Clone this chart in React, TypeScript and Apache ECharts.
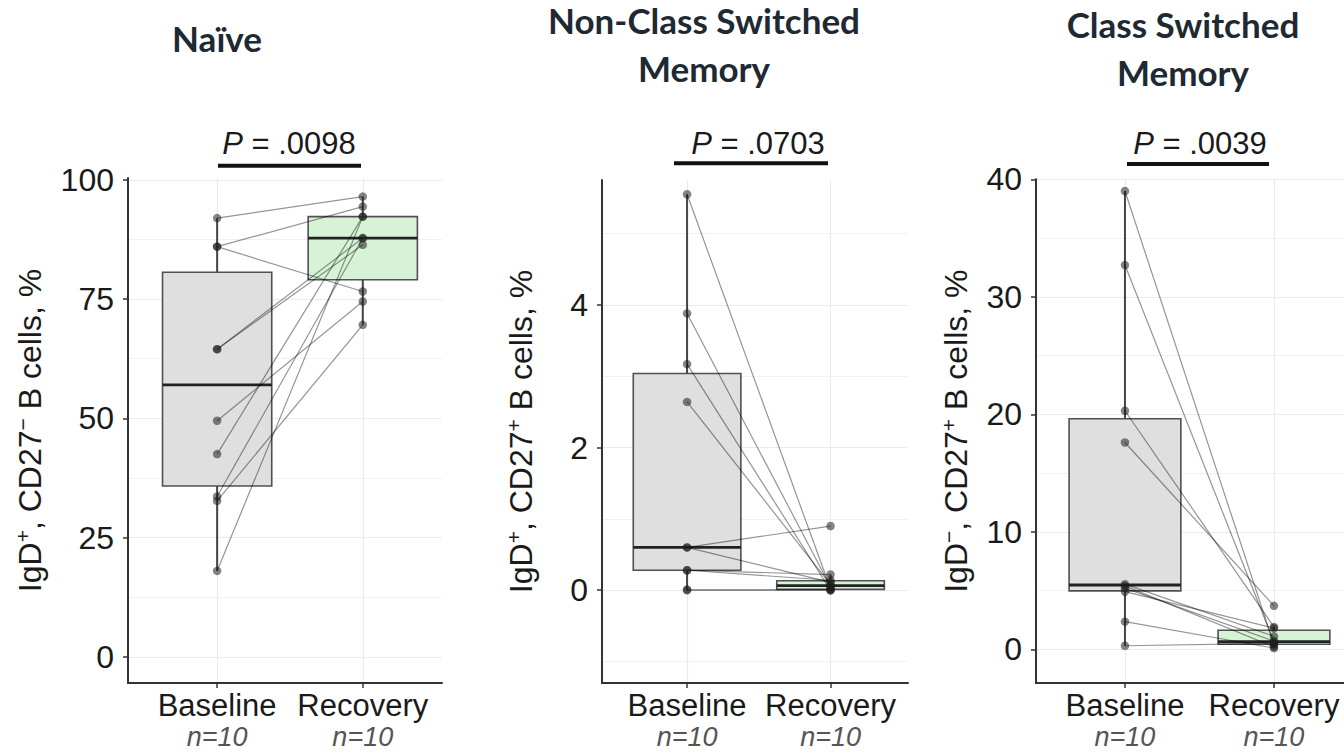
import React, { useEffect, useRef } from 'react';
import * as echarts from 'echarts';

// ---------- data ----------
const groups = ['Baseline', 'Recovery'];
const groupN = ['n=10', 'n=10'];

// paired values (same index = same patient)
const naiveBaseline = [92.0, 86.0, 86.0, 64.5, 64.5, 49.5, 42.5, 33.6, 32.7, 18.0];
const naiveRecovery = [96.5, 94.4, 76.6, 87.8, 86.4, 74.5, 92.3, 87.8, 69.6, 92.3];

const ncsBaseline = [5.55, 3.88, 3.17, 2.64, 0.6, 0.6, 0.28, 0.28, 0.01, 0.0];
const ncsRecovery = [0.02, 0.05, 0.0, 0.08, 0.9, 0.11, 0.22, 0.14, 0.01, 0.0];

const csBaseline = [39.0, 32.7, 20.3, 17.6, 5.54, 5.4, 5.2, 4.9, 2.35, 0.3];
const csRecovery = [0.4, 0.6, 1.9, 3.7, 1.1, 0.2, 0.7, 1.8, 0.1, 0.5];

const panelTitles = [['Naïve'], ['Non-Class Switched', 'Memory'], ['Class Switched', 'Memory']];
const pValues = ['.0098', '.0703', '.0039'];

const yTicks1 = [0, 25, 50, 75, 100];
const yMinor1 = [12.5, 37.5, 62.5, 87.5];
const yTicks2 = [0, 2, 4];
const yMinor2 = [-1, 1, 3, 5];
const yTicks3 = [0, 10, 20, 30, 40];
const yMinor3 = [5, 15, 25, 35];

const yNames = [
  '{t|IgD}{s|+}{t|, CD27}{s|−}{t| B cells, %}',
  '{t|IgD}{s|+}{t|, CD27}{s|+}{t| B cells, %}',
  '{t|IgD}{s|−}{t|, CD27}{s|+}{t| B cells, %}',
];

// ---------- layout (pixels / axis ranges) ----------
const panels = [
  { base: naiveBaseline, rec: naiveRecovery, ticks: yTicks1, minor: yMinor1,
    grid: { left: 128, top: 178, width: 314, height: 505 }, xMin: 0.388, xMax: 2.544, yMin: -5.5, yMax: 100.4,
    nameGap: 80, titleX: 217, titleY: [37.5], pX: 289, bar: [218, 361, 165.7] },
  { base: ncsBaseline, rec: ncsRecovery, ticks: yTicks2, minor: yMinor2,
    grid: { left: 602, top: 180, width: 306, height: 503 }, xMin: 0.407, xMax: 2.54, yMin: -1.3, yMax: 5.75,
    nameGap: 63, titleX: 704, titleY: [19.5, 67.5], pX: 758, bar: [674, 828, 163.3] },
  { base: csBaseline, rec: csRecovery, ticks: yTicks3, minor: yMinor3,
    grid: { left: 1036, top: 179.3, width: 308, height: 503.7 }, xMin: 0.403, xMax: 2.47, yMin: -2.87, yMax: 40,
    nameGap: 62, titleX: 1183, titleY: [23.5, 72], pX: 1200, bar: [1127, 1269, 164] },
];

const FONT = 'Liberation Sans, Arial, sans-serif';

function quantile(s: number[], p: number) {
  const h = (s.length - 1) * p;
  const lo = Math.floor(h);
  const hiV = lo + 1 < s.length ? s[lo + 1] : s[lo];
  return s[lo] + (h - lo) * (hiV - s[lo]);
}
function boxStats(values: number[]) {
  const s = [...values].sort((a, b) => a - b);
  const q1 = quantile(s, 0.25);
  const med = quantile(s, 0.5);
  const q3 = quantile(s, 0.75);
  const iqr = q3 - q1;
  const hi = Math.max(...s.filter((v) => v <= q3 + 1.5 * iqr));
  const lo = Math.min(...s.filter((v) => v >= q1 - 1.5 * iqr));
  return [lo, q1, med, q3, hi];
}

const boxFills = ['#dfdfdf', '#d6f3d6'];

function buildOption() {
  const grid: any[] = [];
  const xAxis: any[] = [];
  const yAxis: any[] = [];
  const series: any[] = [];
  const graphic: any[] = [];

  panels.forEach((p, i) => {
    grid.push({ ...p.grid });
    xAxis.push({
      gridIndex: i,
      type: 'value',
      min: p.xMin,
      max: p.xMax,
      axisLine: { show: true, onZero: false, lineStyle: { color: '#333', width: 2 } },
      axisTick: { show: true, customValues: [1, 2], length: 5, lineStyle: { color: '#333', width: 1.5 } },
      axisLabel: {
        customValues: [1, 2],
        margin: 6,
        formatter: (v: number) => `{a|${groups[Math.round(v) - 1]}}\n{n|${groupN[Math.round(v) - 1]}}`,
        rich: {
          a: { fontSize: 31, color: '#1a1a1a', fontFamily: FONT, lineHeight: 32 },
          n: { fontSize: 27, color: '#555', fontStyle: 'italic', fontFamily: FONT, lineHeight: 32 },
        },
      },
      splitLine: { show: true, lineStyle: { color: '#ebebeb', width: 1.2 } },
    });
    yAxis.push({
      gridIndex: i,
      type: 'value',
      min: p.yMin,
      max: p.yMax,
      axisLine: { show: true, onZero: false, lineStyle: { color: '#333', width: 2 } },
      axisTick: { show: true, customValues: p.ticks, length: 5, lineStyle: { color: '#333', width: 1.5 } },
      axisLabel: { customValues: p.ticks, fontSize: 32, color: '#1a1a1a', fontFamily: FONT, margin: 14 },
      splitLine: { show: true, lineStyle: { color: '#ebebeb', width: 1.2 } },
      name: yNames[i],
      nameLocation: 'middle',
      nameRotate: 90,
      nameGap: p.nameGap,
      nameTextStyle: {
        rich: {
          t: { fontSize: 32, color: '#1a1a1a', fontFamily: FONT, lineHeight: 36 },
          s: { fontSize: 21, color: '#1a1a1a', fontFamily: FONT, verticalAlign: 'top', lineHeight: 22 },
        },
      },
    });
    yAxis.push({
      gridIndex: i,
      type: 'value',
      min: p.yMin,
      max: p.yMax,
      position: 'right',
      axisLine: { show: false },
      axisTick: { show: false, customValues: p.minor },
      axisLabel: { show: false, customValues: p.minor },
      splitLine: { show: true, lineStyle: { color: '#f1f1f1', width: 1.2 } },
    });

    const bStats = boxStats(p.base);
    const rStats = boxStats(p.rec);
    series.push({
      type: 'custom',
      xAxisIndex: i,
      yAxisIndex: 2 * i,
      z: 2,
      silent: true,
      encode: { x: 0, y: [1, 2, 3, 4, 5] },
      data: [[1, ...bStats], [2, ...rStats]],
      renderItem: (params: any, api: any) => {
        const x = api.value(0);
        const lo = api.coord([x, api.value(1)]);
        const q1 = api.coord([x, api.value(2)]);
        const md = api.coord([x, api.value(3)]);
        const q3 = api.coord([x, api.value(4)]);
        const hi = api.coord([x, api.value(5)]);
        const hw = api.size([0.75, 0])[0] / 2;
        return {
          type: 'group',
          children: [
            { type: 'line', shape: { x1: hi[0], y1: hi[1], x2: q3[0], y2: q3[1] }, style: { stroke: '#444', lineWidth: 2 } },
            { type: 'line', shape: { x1: lo[0], y1: lo[1], x2: q1[0], y2: q1[1] }, style: { stroke: '#444', lineWidth: 2 } },
            {
              type: 'rect',
              shape: { x: q3[0] - hw, y: q3[1], width: 2 * hw, height: q1[1] - q3[1] },
              style: { fill: boxFills[params.dataIndex], stroke: '#505050', lineWidth: 1.6 },
            },
            { type: 'line', shape: { x1: md[0] - hw, y1: md[1], x2: md[0] + hw, y2: md[1] }, style: { stroke: '#222', lineWidth: 2.8 } },
          ],
        };
      },
    });
    series.push({
      type: 'lines',
      coordinateSystem: 'cartesian2d',
      xAxisIndex: i,
      yAxisIndex: 2 * i,
      z: 3,
      silent: true,
      lineStyle: { color: 'rgba(0,0,0,0.42)', width: 1.2, opacity: 1 },
      data: p.base.map((b, k) => ({ coords: [[1, b], [2, p.rec[k]]] })),
    });
    series.push({
      type: 'scatter',
      xAxisIndex: i,
      yAxisIndex: 2 * i,
      z: 4,
      silent: true,
      symbolSize: 8.5,
      itemStyle: { color: 'rgba(30,30,30,0.68)' },
      data: [...p.base.map((v) => [1, v]), ...p.rec.map((v) => [2, v])],
    });

    p.titleY.forEach((ty, li) => {
      graphic.push({
        type: 'text',
        x: p.titleX,
        y: ty,
        style: {
          text: panelTitles[i][li],
          fontFamily: 'Lato, "Open Sans", sans-serif',
          fontWeight: 'bold',
          fontSize: 35,
          fill: '#1e2933',
          textAlign: 'center',
          textVerticalAlign: 'middle',
        },
      });
    });
    graphic.push({
      type: 'text',
      x: p.pX,
      y: 143.5,
      style: {
        text: `{i|P}{r| = ${pValues[i]}}`,
        textAlign: 'center',
        textVerticalAlign: 'middle',
        rich: {
          i: { fontSize: 31, fontStyle: 'italic', fontFamily: FONT, fill: '#1a1a1a' },
          r: { fontSize: 31, fontFamily: FONT, fill: '#1a1a1a' },
        },
      },
    });
    graphic.push({
      type: 'rect',
      shape: { x: p.bar[0], y: p.bar[2] - 2, width: p.bar[1] - p.bar[0], height: 4 },
      style: { fill: '#111' },
    });
  });

  return { animation: false, backgroundColor: '#fff', grid, xAxis, yAxis, series, graphic };
}

export default function App() {
  const ref = useRef<HTMLDivElement>(null);
  useEffect(() => {
    if (!ref.current) return;
    const chart = echarts.init(ref.current, undefined, { renderer: 'svg' });
    chart.setOption(buildOption() as any);
    return () => chart.dispose();
  }, []);
  return (
    <div
      ref={ref}
      style={{ position: 'fixed', left: 0, top: 0, width: 1344, height: 754, background: '#fff' }}
    />
  );
}
